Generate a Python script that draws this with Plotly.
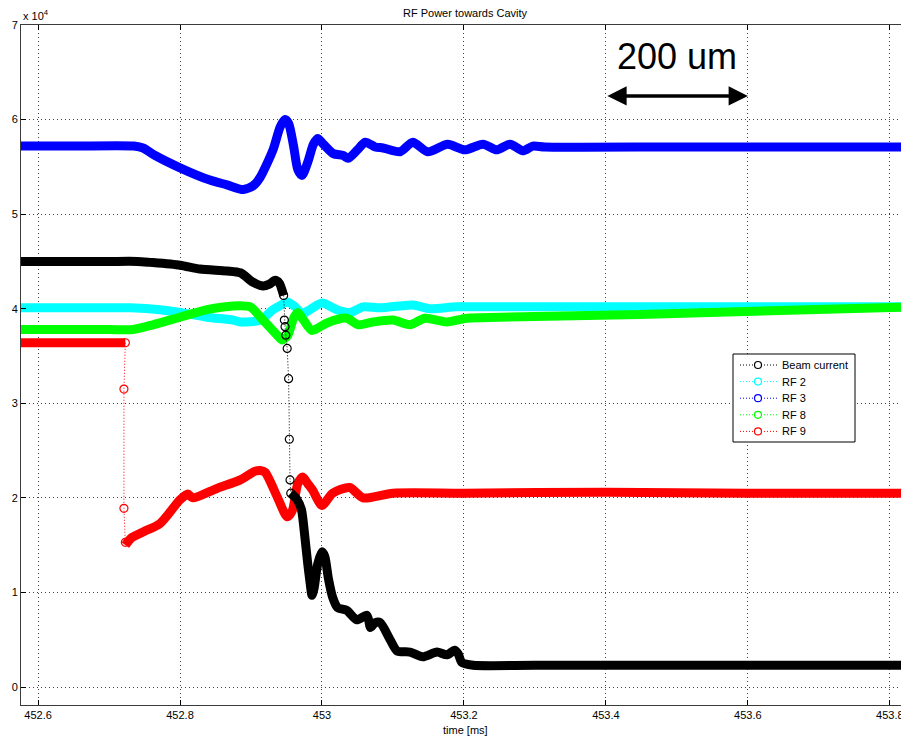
import plotly.graph_objects as go

# ---------------- data (values in units of 10^4) ----------------
beam_t = [452.575, 452.60, 452.65, 452.70, 452.740, 452.758, 452.800, 452.828, 452.866, 452.885,
          452.903, 452.917, 452.926, 452.934, 452.940, 452.944, 452.946]
beam_v = [4.50, 4.50, 4.50, 4.50, 4.50, 4.49, 4.46, 4.42, 4.40, 4.38,
          4.28, 4.24, 4.26, 4.30, 4.27, 4.19, 4.14]
beam_drop_t = [452.946, 452.947, 452.948, 452.949, 452.951, 452.953, 452.954, 452.955, 452.956]
beam_drop_v = [4.14, 3.88, 3.81, 3.72, 3.58, 3.26, 2.62, 2.19, 2.05]
beam_tail_t = [452.956, 452.965, 452.971, 452.976, 452.980, 452.983, 452.986, 452.989, 452.994, 453.000,
               453.004, 453.009, 453.015, 453.022, 453.035, 453.049, 453.063, 453.066, 453.068, 453.075,
               453.082, 453.096, 453.106, 453.124, 453.142, 453.162, 453.176, 453.187, 453.192, 453.197,
               453.213, 453.30, 453.50, 453.70, 453.83]
beam_tail_v = [2.05, 1.98, 1.88, 1.58, 1.30, 1.12, 0.97, 1.05, 1.30, 1.43,
               1.38, 1.15, 0.95, 0.84, 0.81, 0.71, 0.76, 0.70, 0.63, 0.68,
               0.68, 0.50, 0.38, 0.37, 0.32, 0.37, 0.34, 0.39, 0.35, 0.26,
               0.23, 0.23, 0.23, 0.23, 0.23]

rf2_t = [452.575, 452.70, 452.730, 452.772, 452.800, 452.838, 452.875, 452.885, 452.913, 452.931,
         452.940, 452.952, 452.962, 452.972, 452.983, 453.000, 453.021, 453.039, 453.058, 453.082,
         453.128, 453.152, 453.190, 453.25, 453.45, 453.65, 453.83]
rf2_v = [4.01, 4.01, 4.01, 3.99, 3.96, 3.91, 3.88, 3.86, 3.88, 3.99,
         4.03, 4.07, 4.02, 3.95, 3.99, 4.06, 3.99, 3.96, 4.02, 4.01,
         4.04, 4.00, 4.02, 4.02, 4.02, 4.02, 4.02]

rf3_t = [452.575, 452.65, 452.735, 452.748, 452.765, 452.800, 452.842, 452.866, 452.889, 452.903,
         452.913, 452.931, 452.941, 452.948, 452.953, 452.960, 452.966, 452.972, 452.980, 452.988,
         452.994, 453.002, 453.016, 453.030, 453.037, 453.050, 453.061, 453.075, 453.086, 453.110,
         453.128, 453.149, 453.177, 453.201, 453.227, 453.246, 453.265, 453.283, 453.297, 453.314,
         453.50, 453.70, 453.83]
rf3_v = [5.72, 5.72, 5.72, 5.70, 5.62, 5.49, 5.36, 5.31, 5.26, 5.30,
         5.39, 5.68, 5.92, 6.00, 5.96, 5.72, 5.47, 5.41, 5.55, 5.74,
         5.80, 5.74, 5.64, 5.62, 5.59, 5.68, 5.76, 5.71, 5.70, 5.66,
         5.76, 5.66, 5.74, 5.68, 5.74, 5.68, 5.74, 5.67, 5.72, 5.71,
         5.71, 5.71, 5.71]

rf8_t = [452.575, 452.70, 452.734, 452.762, 452.800, 452.838, 452.875, 452.899, 452.917, 452.937,
         452.944, 452.952, 452.960, 452.966, 452.974, 452.986, 453.007, 453.035, 453.051, 453.072,
         453.100, 453.124, 453.145, 453.176, 453.204, 453.251, 453.448, 453.645, 453.83]
rf8_v = [3.78, 3.78, 3.78, 3.83, 3.91, 3.99, 4.03, 4.02, 3.88, 3.72,
         3.67, 3.72, 3.90, 3.96, 3.88, 3.77, 3.85, 3.90, 3.83, 3.86,
         3.88, 3.83, 3.90, 3.86, 3.90, 3.91, 3.94, 3.98, 4.02]

rf9_t = [452.575, 452.65, 452.723]
rf9_v = [3.64, 3.64, 3.64]
rf9_drop_t = [452.723, 452.721, 452.721, 452.723]
rf9_drop_v = [3.64, 3.15, 1.89, 1.53]
rf9_tail_t = [452.723, 452.732, 452.748, 452.772, 452.800, 452.811, 452.818, 452.852, 452.885, 452.905,
              452.913, 452.920, 452.937, 452.951, 452.958, 452.966, 452.973, 452.980, 452.987, 453.000,
              453.015, 453.039, 453.058, 453.10, 453.20, 453.40, 453.60, 453.83]
rf9_tail_v = [1.50, 1.58, 1.64, 1.73, 1.98, 2.04, 2.00, 2.10, 2.19, 2.28,
              2.29, 2.27, 2.01, 1.80, 1.86, 2.15, 2.22, 2.15, 2.08, 1.92,
              2.05, 2.11, 2.00, 2.05, 2.05, 2.06, 2.05, 2.05]

names = ["Beam current", "RF 2", "RF 3", "RF 8", "RF 9"]
colors = ["#000000", "#00FFFF", "#0000FF", "#00FF00", "#FF0000"]

x_ticks = [452.6, 452.8, 453.0, 453.2, 453.4, 453.6, 453.8]
x_ticktext = ["452.6", "452.8", "453", "453.2", "453.4", "453.6", "453.8"]
y_ticks = [0, 1, 2, 3, 4, 5, 6, 7]
y_ticktext = ["0", "1", "2", "3", "4", "5", "6", "7"]

scale_start, scale_end, scale_level = 453.4, 453.6, 6.25
scale_label = "200 um"

# ---------------- figure ----------------
FONT = "Liberation Sans, Arial, Helvetica, sans-serif"
BAND = 9
PLOT_W, PLOT_H = 888.0, 680.0   # plot-area size in pixels

fig = go.Figure()

def band(t, v, c):
    fig.add_trace(go.Scatter(x=t, y=v, mode="lines", showlegend=False, hoverinfo="skip",
                             line=dict(color=c, width=BAND, shape="spline", smoothing=0.7)))

def sparse(t, v, c):
    fig.add_trace(go.Scatter(x=t, y=v, mode="lines+markers", showlegend=False, hoverinfo="skip",
                             line=dict(color=c, width=1, dash="1px,2px"),
                             marker=dict(symbol="circle-open", size=8, color=c, line=dict(width=1.2))))

band(rf2_t, rf2_v, colors[1])
band(rf3_t, rf3_v, colors[2])
band(rf8_t, rf8_v, colors[3])
band(rf9_t, rf9_v, colors[4])
band(rf9_tail_t, rf9_tail_v, colors[4])
sparse(rf9_drop_t, rf9_drop_v, colors[4])
band(beam_t, beam_v, colors[0])
band(beam_tail_t, beam_tail_v, colors[0])
sparse(beam_drop_t, beam_drop_v, colors[0])

axis_common = dict(showline=True, linecolor="#3a3a3a", linewidth=1, mirror="ticks",
                   ticks="inside", ticklen=5, tickcolor="#000", zeroline=False,
                   showgrid=True, gridcolor="rgba(0,0,0,0.75)", gridwidth=1, griddash="1px,3px",
                   tickfont=dict(family=FONT, size=11, color="#000"))

# the page body adds an 8px offset; the figure is sized so the plot lands where the reference has it
fig.update_layout(
    width=901, height=730,
    margin=dict(l=13, r=0, t=17, b=33),
    paper_bgcolor="white", plot_bgcolor="white",
    font=dict(family=FONT, size=11, color="#000"),
    xaxis=dict(range=[452.576, 453.827], tickvals=x_ticks, ticktext=x_ticktext, **axis_common),
    yaxis=dict(range=[-0.19, 7.0], tickvals=y_ticks, ticktext=y_ticktext, **axis_common),
    showlegend=False,
)

# ---- MATLAB-style legend box (drawn in paper coordinates) ----
def px(x):  # plot-area pixel offset from left -> paper x
    return x / PLOT_W

def py(y):  # plot-area pixel offset from top -> paper y
    return 1 - y / PLOT_H

box_l, box_r, box_t, box_b = 712, 834, 329, 417
row0, row_step = 340, 16.6
line_l, line_r, mark_x, text_x = 719, 756, 737, 759

fig.add_shape(type="rect", xref="paper", yref="paper",
              x0=px(box_l), x1=px(box_r), y0=py(box_b), y1=py(box_t),
              line=dict(color="#000", width=1), fillcolor="white", layer="above")
for i, (n, c) in enumerate(zip(names, colors)):
    yy = py(row0 + i * row_step)
    fig.add_shape(type="line", xref="paper", yref="paper",
                  x0=px(line_l), x1=px(line_r), y0=yy, y1=yy,
                  line=dict(color=c, width=1, dash="1px,2px"), layer="above")
    fig.add_shape(type="circle", xref="paper", yref="paper",
                  xsizemode="pixel", ysizemode="pixel", xanchor=px(mark_x), yanchor=yy,
                  x0=-3.5, x1=3.5, y0=-3.5, y1=3.5,
                  line=dict(color=c, width=1.2), fillcolor="white", layer="above")
    fig.add_annotation(text=n, xref="paper", yref="paper", x=px(text_x), y=yy,
                       xanchor="left", yanchor="middle", showarrow=False,
                       font=dict(size=11, color="#000"))

fig.add_annotation(text="RF Power towards Cavity", xref="paper", yref="paper",
                   x=0.5, y=1 + 12 / PLOT_H, xanchor="center", yanchor="middle",
                   showarrow=False, font=dict(size=11))
fig.add_annotation(text="time [ms]", xref="paper", yref="paper",
                   x=0.5, y=-25 / PLOT_H, xanchor="center", yanchor="middle",
                   showarrow=False, font=dict(size=11))
fig.add_annotation(text="x 10<sup>4</sup>", xref="paper", yref="paper",
                   x=0.0, y=1 + 10 / PLOT_H, xanchor="left", yanchor="middle",
                   showarrow=False, font=dict(size=11))
fig.add_annotation(text=scale_label, xref="x", yref="y",
                   x=(scale_start + scale_end) / 2, y=6.67, xanchor="center", yanchor="middle",
                   showarrow=False, font=dict(size=36, color="#000"))
fig.add_annotation(x=scale_end, y=scale_level, ax=scale_start, ay=scale_level,
                   xref="x", yref="y", axref="x", ayref="y", text="",
                   showarrow=True, arrowhead=2, arrowside="end+start",
                   arrowwidth=3.5, arrowsize=1.1, arrowcolor="#000")

fig.write_html("out.html")
